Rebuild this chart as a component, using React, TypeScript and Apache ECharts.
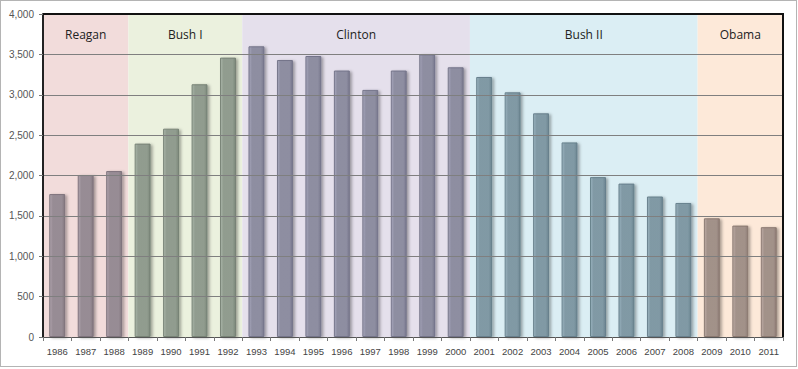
import React, { useEffect, useRef } from "react";
import * as echarts from "echarts";

const years = ["1986","1987","1988","1989","1990","1991","1992","1993","1994","1995","1996","1997","1998","1999","2000","2001","2002","2003","2004","2005","2006","2007","2008","2009","2010","2011"];
const values = [1770,2005,2055,2395,2580,3130,3460,3600,3430,3480,3300,3060,3300,3500,3340,3220,3030,2770,2410,1980,1900,1740,1660,1470,1380,1360];
const presidents = ["Reagan","Bush I","Clinton","Bush II","Obama"];
const termStart = [0,3,7,15,23];
const termEnd = [3,7,15,23,26];
const bandColors = ["#f2dcdb","#ebf1de","#e5e0ec","#dbeef4","#fde9d9"];
const barColors = ["#958a93","#8e9a8d","#8b8ba0","#7e97a3","#a08f88"];
const yTicks = [0,500,1000,1500,2000,2500,3000,3500,4000];

function presIndex(i: number) {
  for (let p = 0; p < presidents.length; p++) if (i >= termStart[p] && i < termEnd[p]) return p;
  return 0;
}

function lighten(hex: string, amt: number) {
  const n = parseInt(hex.slice(1), 16);
  const r = Math.max(0, Math.min(255, ((n >> 16) & 255) + amt));
  const g = Math.max(0, Math.min(255, ((n >> 8) & 255) + amt));
  const b = Math.max(0, Math.min(255, (n & 255) + amt));
  return `rgb(${r},${g},${b})`;
}

export default function App() {
  const ref = useRef<HTMLDivElement>(null);
  useEffect(() => {
    document.body.style.margin = "0";
    const chart = echarts.init(ref.current!, null, { renderer: "svg" });
    const yMax = yTicks[yTicks.length - 1];
    const bands = presidents.map((p, i) => [termStart[i], termEnd[i], i]);
    chart.setOption({
      animation: false,
      grid: { left: 42, right: 13, top: 13, bottom: 29, show: false },
      xAxis: [
        {
          type: "category",
          data: years,
          axisLine: { show: true, lineStyle: { color: "#555", width: 1 } },
          axisTick: { show: true, length: 4, lineStyle: { color: "#777" } },
          axisLabel: { color: "#444", fontSize: 9.5, fontFamily: "Liberation Sans, Arial", margin: 9, interval: 0 },
          z: 5,
        },
        { type: "value", min: 0, max: years.length, show: false },
      ],
      yAxis: {
        type: "value",
        min: 0,
        max: yMax,
        interval: 500,
        axisLine: { show: true, lineStyle: { color: "#222", width: 2 } },
        axisTick: { show: true, length: 4, lineStyle: { color: "#777" } },
        axisLabel: {
          color: "#555",
          fontSize: 10,
          fontFamily: "Liberation Sans, Arial",
          margin: 9,
          formatter: (v: number) => v.toLocaleString("en-US"),
        },
        splitLine: { show: true, lineStyle: { color: "#7f7f7f", width: 1 } },
        z: 5,
      },
      series: [
        {
          type: "custom",
          xAxisIndex: 1,
          z: 0,
          silent: true,
          data: bands,
          renderItem: (params: any, api: any) => {
            const s = api.value(0), e = api.value(1), p = api.value(2);
            const tl = api.coord([s, yMax]);
            const br = api.coord([e, 0]);
            return {
              type: "group",
              children: [
                {
                  type: "rect",
                  shape: { x: tl[0], y: tl[1], width: br[0] - tl[0], height: br[1] - tl[1] },
                  style: { fill: bandColors[p] },
                  z2: 0,
                },
                {
                  type: "text",
                  x: (tl[0] + br[0]) / 2,
                  y: tl[1] + 20,
                  style: {
                    text: presidents[p],
                    fill: "#222",
                    font: "12px 'Open Sans', 'Noto Sans', sans-serif",
                    align: "center",
                    verticalAlign: "middle",
                  },
                  z2: 10,
                },
              ],
            };
          },
        },
        {
          type: "bar",
          xAxisIndex: 0,
          barWidth: "56%",
          z: 3,
          data: values.map((v, i) => {
            const c = barColors[presIndex(i)];
            return {
              value: v,
              itemStyle: {
                color: new echarts.graphic.LinearGradient(0, 0, 1, 0, [
                  { offset: 0, color: lighten(c, 25) },
                  { offset: 0.2, color: c },
                  { offset: 0.8, color: c },
                  { offset: 1, color: lighten(c, -20) },
                ]),
                borderColor: lighten(c, -25),
                borderWidth: 1,
                shadowColor: "rgba(0,0,0,0.35)",
                shadowBlur: 3,
                shadowOffsetX: 2,
                shadowOffsetY: 1,
                opacity: 0.95,
              },
            };
          }),
        },
      ],
      graphic: [],
    });
    const tl = chart.convertToPixel({ xAxisIndex: 1, yAxisIndex: 0 }, [0, yMax]) as number[];
    const br = chart.convertToPixel({ xAxisIndex: 1, yAxisIndex: 0 }, [years.length, 0]) as number[];
    chart.setOption({
      graphic: [
        {
          type: "polyline",
          z: 100,
          shape: { points: [[tl[0], tl[1]], [br[0], tl[1]], [br[0], br[1]]] },
          style: { stroke: "#111", lineWidth: 2, fill: null },
          silent: true,
        },
      ],
    });
    return () => chart.dispose();
  }, []);
  return (
    <div
      style={{
        width: 797,
        height: 367,
        border: "1px solid #b4b4b4",
        boxSizing: "border-box",
        background: "#fff",
      }}
    >
      <div ref={ref} style={{ width: 795, height: 365 }} />
    </div>
  );
}
